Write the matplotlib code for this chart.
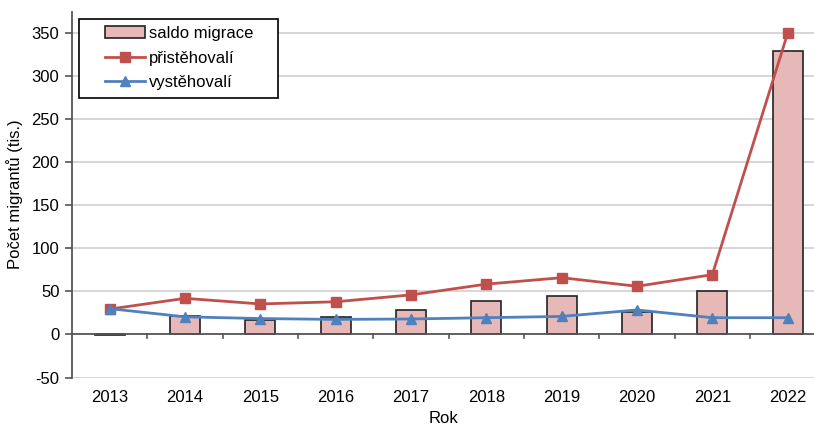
import matplotlib.pyplot as plt
from matplotlib.patches import Rectangle
import numpy as np

plt.rcParams['font.family'] = ['Liberation Sans', 'DejaVu Sans']
plt.rcParams['axes.unicode_minus'] = False

# data (tis.)
roky = ['2013', '2014', '2015', '2016', '2017', '2018', '2019', '2020', '2021', '2022']
saldo = [-0.6, 22, 16.5, 20, 28.5, 39, 44.5, 26.5, 50, 330]
pristehovali = [29.5, 42, 35.5, 38, 46, 58.5, 66, 56, 69.5, 350]
vystehovali = [30, 20.5, 18.5, 17.5, 18, 19.5, 21, 28.5, 19.5, 19.5]

x = np.arange(len(roky))

W, H = 814, 428
fig = plt.figure(figsize=(W/100, H/100), dpi=100)
ax = fig.add_axes([72/W, 50.5/H, 1 - 72/W, (377.7-12)/H])

ax.set_ylim(-50, 375)
ax.set_xlim(-0.5, 9.35)

# gridlines
for v in range(-50, 351, 50):
    if v != 0:
        ax.axhline(v, color='#d0d0d0', lw=1.2, zorder=0)

ax.bar(x, saldo, width=0.4, color='#e6b8b7', edgecolor='#222222', lw=1.2,
       label='saldo migrace', zorder=2)
ax.axhline(0, color='#555555', lw=1.3, zorder=3)
ax.plot(x, pristehovali, color='#c0504d', marker='s', ms=7, lw=2,
        label='přistěhovalí', zorder=4)
ax.plot(x, vystehovali, color='#4f81bd', marker='^', ms=7, lw=2,
        label='vystěhovalí', zorder=5)

ax.set_yticks(range(-50, 351, 50))
ax.set_xticks(x)
ax.set_xticklabels(roky)
ax.tick_params(axis='x', length=0, pad=9, labelsize=12)
ax.tick_params(axis='y', length=5, width=1.2, color='#555555', labelsize=12, pad=4)
# category boundary ticks below the zero line
for b in x[:-1] + 0.5:
    ax.plot([b, b], [0, -4], color='#555555', lw=1.2, zorder=3, clip_on=False)

for s in ['top', 'right', 'bottom']:
    ax.spines[s].set_visible(False)
ax.spines['left'].set_color('#555555')
ax.spines['left'].set_linewidth(1.3)

ax.set_xlabel('Rok', fontsize=12, labelpad=4)
ax.set_ylabel('Počet migrantů (tis.)', fontsize=12, labelpad=6)

# legend box drawn separately (wider padding than matplotlib's legend frame)
box = Rectangle((79/W, 1 - 98/H), 199/W, 79/H, transform=fig.transFigure,
                facecolor='white', edgecolor='black', lw=1.2, zorder=6)
fig.patches.append(box)

h, l = ax.get_legend_handles_labels()
order = [2, 0, 1]
leg = fig.legend([h[i] for i in order], [l[i] for i in order],
                 loc='upper left', bbox_to_anchor=(105/W, 1 - 26/H), fontsize=12,
                 frameon=False, handlelength=2.4, handletextpad=0.25,
                 borderpad=0, labelspacing=0.58, borderaxespad=0)
leg.set_zorder(7)

fig.savefig('out.png', dpi=100)
